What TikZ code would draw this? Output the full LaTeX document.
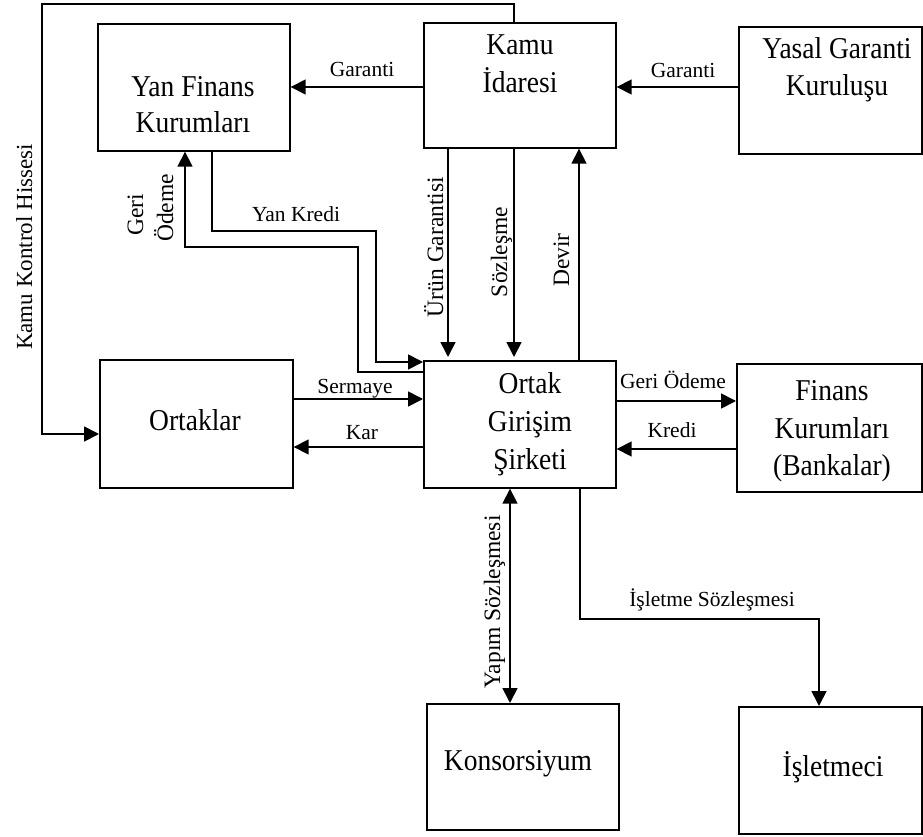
\documentclass[tikz,border=0pt]{standalone}
\usepackage{fontspec}
\usepackage{graphicx}
\setmainfont{Liberation Serif}
\usetikzlibrary{arrows.meta}
\newcommand{\tallbox}[1]{\scalebox{1}[1.1]{#1}}
\tikzset{
  box/.style={draw, line width=1.7pt, inner sep=0pt, anchor=north west},
  conn/.style={line width=1.7pt},
  arr/.style={conn, -{Triangle[length=15pt,width=15pt]}},
  darr/.style={conn, {Triangle[length=15pt,width=15pt]}-{Triangle[length=15pt,width=15pt]}},
  big/.style={font=\fontsize{27.5}{33}\selectfont, anchor=base, inner sep=0pt},
  lbl/.style={font=\fontsize{21.5}{26}\selectfont, anchor=base, inner sep=0pt},
  vlbl/.style={font=\fontsize{23.5}{28}\selectfont, anchor=base, inner sep=0pt, rotate=90},
}
\begin{document}
\begin{tikzpicture}[x=1pt,y=-1pt]
\useasboundingbox (0,0) rectangle (923,837);
% boxes
\node[box, minimum width=192pt, minimum height=127pt] (yfk) at (97,23) {};
\node[box, minimum width=192pt, minimum height=125pt] (kamu) at (423,22) {};
\node[box, minimum width=183pt, minimum height=127pt] (yasal) at (738,26) {};
\node[box, minimum width=193pt, minimum height=128pt] (ortaklar) at (99,359) {};
\node[box, minimum width=192pt, minimum height=127pt] (ogs) at (423,360) {};
\node[box, minimum width=185pt, minimum height=128pt] (finans) at (736,363) {};
\node[box, minimum width=192pt, minimum height=126pt] (kons) at (426,703) {};
\node[box, minimum width=183pt, minimum height=127pt] (islet) at (738,706) {};
% box texts
\node[big] (t1a) at (193,97) {\tallbox{Yan Finans}};
\node[big] (t1b) at (193,133) {\tallbox{Kurumları}};
\node[big] (t2a) at (520,55) {\tallbox{Kamu}};
\node[big] (t2b) at (520,93) {\tallbox{İdaresi}};
\node[big] (t3a) at (837,59) {\tallbox{Yasal Garanti}};
\node[big] (t3b) at (837,96) {\tallbox{Kuruluşu}};
\node[big] (t4) at (195,430) {\tallbox{Ortaklar}};
\node[big] (t5a) at (530,393) {\tallbox{Ortak}};
\node[big] (t5b) at (530,431) {\tallbox{Girişim}};
\node[big] (t5c) at (530,469) {\tallbox{Şirketi}};
\node[big] (t6a) at (832,400) {\tallbox{Finans}};
\node[big] (t6b) at (832,438) {\tallbox{Kurumları}};
\node[big] (t6c) at (832,475) {\tallbox{(Bankalar)}};
\node[big] (t7) at (518,770) {\tallbox{Konsorsiyum}};
\node[big] (t8) at (833,776) {\tallbox{İşletmeci}};
% connectors
\draw[arr] (kamu.west |- 0,87) -- (yfk.east |- 0,87);
\draw[arr] (yasal.west |- 0,87) -- (kamu.east |- 0,87);
\draw[arr] (514,0 |- kamu.north) -- (514,4) -- (42,4) -- (42,434) -- (ortaklar.west |- 0,434);
\draw[arr, shorten >=3pt] (448,0 |- kamu.south) -- (448,0 |- ogs.north);
\draw[arr, shorten >=3pt] (514,0 |- kamu.south) -- (514,0 |- ogs.north);
\draw[arr] (579,0 |- ogs.north) -- (579,0 |- kamu.south);
\draw[arr] (212,0 |- yfk.south) -- (212,231) -- (376,231) -- (376,362) -- (ogs.west |- 0,362);
\draw[arr] (ogs.west |- 0,372) -- (358,372) -- (358,247) -- (185,247) -- (185,0 |- yfk.south);
\draw[arr] (ortaklar.east |- 0,399) -- (ogs.west |- 0,399);
\draw[arr] (ogs.west |- 0,447) -- (ortaklar.east |- 0,447);
\draw[arr] (ogs.east |- 0,401) -- (finans.west |- 0,401);
\draw[arr] (finans.west |- 0,449) -- (ogs.east |- 0,449);
\draw[darr] (510,0 |- ogs.south) -- (510,0 |- kons.north);
\draw[arr] (580,0 |- ogs.south) -- (580,619) -- (819,619) -- (819,0 |- islet.north);
% labels
\node[lbl] (l1) at (362,77) {Garanti};
\node[lbl] (l2) at (683,78) {Garanti};
\node[lbl] (l3) at (296,221) {Yan Kredi};
\node[lbl] (l4) at (355,393) {Sermaye};
\node[lbl] (l5) at (362,439) {Kar};
\node[lbl] (l6) at (673,388) {Geri Ödeme};
\node[lbl] (l7) at (672,437) {Kredi};
\node[lbl] (l8) at (712,606) {İşletme Sözleşmesi};
\node[vlbl] (v1) at (443,247) {Ürün Garantisi};
\node[vlbl] (v2) at (507,252) {Sözleşme};
\node[vlbl] (v3) at (569,260) {Devir};
\node[vlbl] (v4) at (500,602) {Yapım Sözleşmesi};
\node[vlbl, font=\fontsize{23}{28}\selectfont] (v5) at (32,247) {Kamu Kontrol Hissesi};
\node[vlbl] (v6) at (143,215) {Geri};
\node[vlbl] (v7) at (173,208) {Ödeme};
\end{tikzpicture}
\end{document}
